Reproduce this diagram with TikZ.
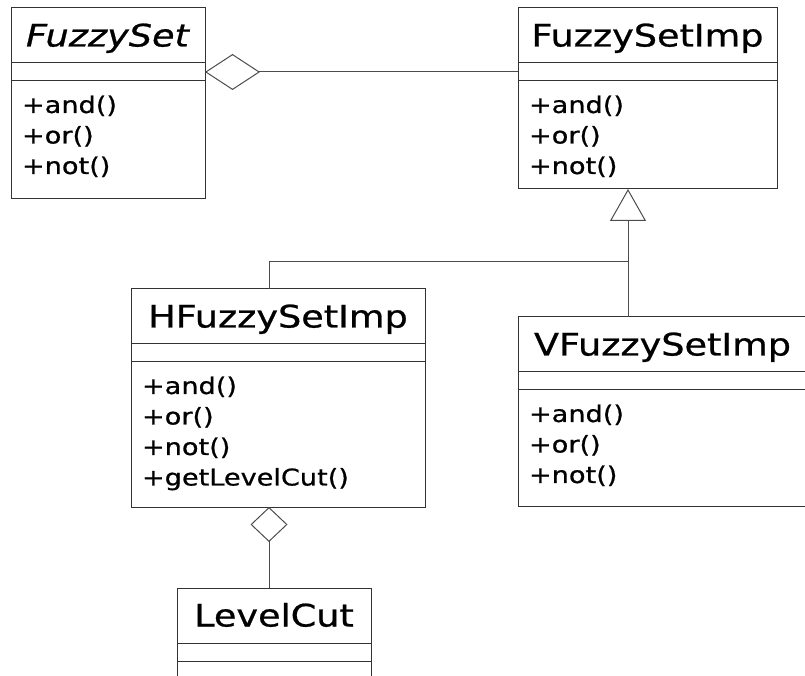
\documentclass[tikz,border=0pt]{standalone}
\usepackage{fontspec}
\setmainfont{DejaVu Sans}[FakeStretch=1.18, FakeBold=0.8]
\usetikzlibrary{positioning,arrows.meta}

\begin{document}
\begin{tikzpicture}[
    x=1pt,y=1pt,
    every node/.style={outer sep=0pt},
    box/.style={draw=black!80, line width=1pt},
    ctitle/.style={box, minimum height=55pt, text height=23pt, text depth=1pt, font=\fontsize{31}{37}\selectfont},
    cattr/.style={box, minimum height=18pt, inner sep=0pt},
    cops/.style={box, inner xsep=11pt, inner ysep=1pt, text height=31pt, align=left, font=\fontsize{23}{30.5}\selectfont},
    link/.style={draw=black!70, line width=1pt},
    inherit/.style={link, -{Triangle[open, length=32pt, width=36pt]}}
]
    \useasboundingbox (0,0) rectangle (805,675);
    \clip (0,0) rectangle (805,675);

    % abstraction side
    \node[ctitle, minimum width=194pt, anchor=north west] (fs) at (11,667) {\textit{FuzzySet}};
    \node[cattr, minimum width=194pt, below=0pt of fs] (fs-a) {};
    \node[cops, text width=172pt, text depth=85pt, below=0pt of fs-a] (fs-o) {+and()\\+or()\\+not()};

    % implementor
    \node[ctitle, minimum width=259pt, anchor=north west] (fsi) at (518,667) {FuzzySetImp};
    \node[cattr, minimum width=259pt, below=0pt of fsi] (fsi-a) {};
    \node[cops, text width=237pt, text depth=75pt, below=0pt of fsi-a] (fsi-o) {+and()\\+or()\\+not()};

    % concrete implementors
    \node[ctitle, minimum width=294pt, anchor=north west] (hfsi) at (131,386) {HFuzzySetImp};
    \node[cattr, minimum width=294pt, below=0pt of hfsi] (hfsi-a) {};
    \node[cops, text width=272pt, text depth=112pt, below=0pt of hfsi-a] (hfsi-o) {+and()\\+or()\\+not()\\+getLevelCut()};

    \node[ctitle, minimum width=289pt, anchor=north west] (vfsi) at (518,358) {VFuzzySetImp};
    \node[cattr, minimum width=289pt, below=0pt of vfsi] (vfsi-a) {};
    \node[cops, text width=267pt, text depth=83pt, below=0pt of vfsi-a] (vfsi-o) {+and()\\+or()\\+not()};

    \node[ctitle, minimum width=194pt, anchor=north west] (lc) at (177,87) {LevelCut};
    \node[cattr, minimum width=194pt, below=0pt of lc] (lc-a) {};
    \node[cops, text width=172pt, text depth=40pt, below=0pt of lc-a] (lc-o) {};

    % aggregations
    \draw[link, {Diamond[open, length=55pt, width=36pt]}-] (fs-a.east) -- (fsi-a.west);
    \draw[link, {Diamond[open, length=35pt, width=37pt]}-] ([xshift=-9pt]hfsi-o.south) -- ([xshift=-9pt]hfsi-o.south |- lc.north);

    % generalization tree
    \coordinate (split) at (628,413);
    \draw[inherit] (split |- vfsi.north) -- (split |- fsi-o.south);
    \draw[link] ([xshift=-9pt]hfsi.north) |- (split);
\end{tikzpicture}
\end{document}
